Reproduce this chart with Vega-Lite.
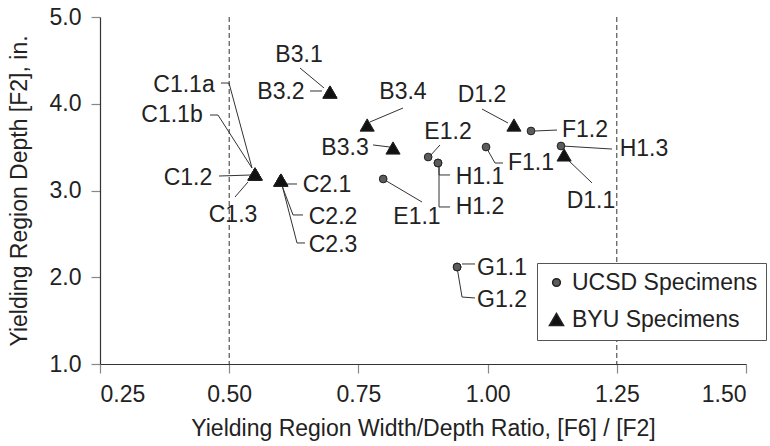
{
  "$schema": "https://vega.github.io/schema/vega-lite/v6.json",
  "width": 646,
  "height": 347,
  "autosize": {"type": "none"},
  "padding": {"left": 100, "top": 17, "right": 24, "bottom": 82},
  "background": "white",
  "config": {
    "view": {"stroke": null},
    "font": "Liberation Sans",
    "axis": {
      "labelFont": "Liberation Sans",
      "titleFont": "Liberation Sans",
      "labelFontSize": 23,
      "titleFontSize": 23,
      "labelColor": "#222222",
      "titleColor": "#222222",
      "titleFontWeight": "normal",
      "domainColor": "#333333",
      "domainWidth": 1.2,
      "tickColor": "#888888",
      "tickSize": 9,
      "tickWidth": 1.2,
      "grid": false,
      "labelPadding": 10
    },
    "legend": {
      "labelFont": "Liberation Sans",
      "labelFontSize": 23,
      "labelColor": "#222222",
      "labelLimit": 0
    }
  },
  "datasets": {
    "refs": [{"x": 0.5}, {"x": 1.25}],
    "specimens": [
      {"specimen": "C1.1a", "group": "BYU Specimens", "x": 0.55, "y": 3.19},
      {"specimen": "C1.1b", "group": "BYU Specimens", "x": 0.55, "y": 3.19},
      {"specimen": "C1.2", "group": "BYU Specimens", "x": 0.55, "y": 3.19},
      {"specimen": "C1.3", "group": "BYU Specimens", "x": 0.55, "y": 3.19},
      {"specimen": "C2.1", "group": "BYU Specimens", "x": 0.60, "y": 3.12},
      {"specimen": "C2.2", "group": "BYU Specimens", "x": 0.60, "y": 3.12},
      {"specimen": "C2.3", "group": "BYU Specimens", "x": 0.60, "y": 3.12},
      {"specimen": "B3.1", "group": "BYU Specimens", "x": 0.695, "y": 4.135},
      {"specimen": "B3.2", "group": "BYU Specimens", "x": 0.695, "y": 4.135},
      {"specimen": "B3.4", "group": "BYU Specimens", "x": 0.767, "y": 3.755},
      {"specimen": "B3.3", "group": "BYU Specimens", "x": 0.817, "y": 3.49},
      {"specimen": "D1.2", "group": "BYU Specimens", "x": 1.051, "y": 3.755},
      {"specimen": "D1.1", "group": "BYU Specimens", "x": 1.148, "y": 3.41},
      {"specimen": "E1.1", "group": "UCSD Specimens", "x": 0.798, "y": 3.133},
      {"specimen": "E1.2", "group": "UCSD Specimens", "x": 0.885, "y": 3.386},
      {"specimen": "H1.1", "group": "UCSD Specimens", "x": 0.904, "y": 3.317},
      {"specimen": "H1.2", "group": "UCSD Specimens", "x": 0.904, "y": 3.317},
      {"specimen": "F1.1", "group": "UCSD Specimens", "x": 0.997, "y": 3.501},
      {"specimen": "F1.2", "group": "UCSD Specimens", "x": 1.084, "y": 3.686},
      {"specimen": "H1.3", "group": "UCSD Specimens", "x": 1.142, "y": 3.513},
      {"specimen": "G1.1", "group": "UCSD Specimens", "x": 0.941, "y": 2.118},
      {"specimen": "G1.2", "group": "UCSD Specimens", "x": 0.941, "y": 2.118}
    ],
    "labels": [
      {"label": "C1.1a", "x": 0.4125, "y": 4.216},
      {"label": "C1.1b", "x": 0.3893, "y": 3.87},
      {"label": "C1.2", "x": 0.4203, "y": 3.144},
      {"label": "C1.3", "x": 0.5074, "y": 2.718},
      {"label": "B3.1", "x": 0.6351, "y": 4.562},
      {"label": "B3.2", "x": 0.6002, "y": 4.135},
      {"label": "B3.4", "x": 0.8363, "y": 4.135},
      {"label": "B3.3", "x": 0.7241, "y": 3.49},
      {"label": "E1.2", "x": 0.9234, "y": 3.674},
      {"label": "H1.1", "x": 0.9853, "y": 3.156},
      {"label": "H1.2", "x": 0.9853, "y": 2.81},
      {"label": "E1.1", "x": 0.8634, "y": 2.695},
      {"label": "C2.1", "x": 0.6892, "y": 3.063},
      {"label": "C2.2", "x": 0.7009, "y": 2.695},
      {"label": "C2.3", "x": 0.7009, "y": 2.372},
      {"label": "D1.2", "x": 0.9892, "y": 4.101},
      {"label": "F1.2", "x": 1.1885, "y": 3.697},
      {"label": "F1.1", "x": 1.084, "y": 3.317},
      {"label": "H1.3", "x": 1.3026, "y": 3.478},
      {"label": "D1.1", "x": 1.2001, "y": 2.879},
      {"label": "G1.1", "x": 1.0279, "y": 2.107},
      {"label": "G1.2", "x": 1.0279, "y": 1.738}
    ],
    "leaders": [
      {"id": "C1.1a", "seq": 1, "x": 0.4841, "y": 4.239},
      {"id": "C1.1a", "seq": 2, "x": 0.4996, "y": 4.239},
      {"id": "C1.1a", "seq": 3, "x": 0.5441, "y": 3.259},
      {"id": "C1.1b", "seq": 1, "x": 0.4629, "y": 3.87},
      {"id": "C1.1b", "seq": 2, "x": 0.4783, "y": 3.87},
      {"id": "C1.1b", "seq": 3, "x": 0.5441, "y": 3.259},
      {"id": "C1.2", "seq": 1, "x": 0.4803, "y": 3.167},
      {"id": "C1.2", "seq": 2, "x": 0.5441, "y": 3.179},
      {"id": "C1.3", "seq": 1, "x": 0.5112, "y": 2.925},
      {"id": "C1.3", "seq": 2, "x": 0.5364, "y": 3.098},
      {"id": "B3.1", "seq": 1, "x": 0.637, "y": 4.412},
      {"id": "B3.1", "seq": 2, "x": 0.6834, "y": 4.182},
      {"id": "B3.2", "seq": 1, "x": 0.6564, "y": 4.147},
      {"id": "B3.2", "seq": 2, "x": 0.6796, "y": 4.147},
      {"id": "B3.4", "seq": 1, "x": 0.8363, "y": 3.951},
      {"id": "B3.4", "seq": 2, "x": 0.7725, "y": 3.79},
      {"id": "B3.3", "seq": 1, "x": 0.7783, "y": 3.525},
      {"id": "B3.3", "seq": 2, "x": 0.8112, "y": 3.501},
      {"id": "E1.2", "seq": 1, "x": 0.9079, "y": 3.525},
      {"id": "E1.2", "seq": 2, "x": 0.8886, "y": 3.398},
      {"id": "H1.1", "seq": 1, "x": 0.906, "y": 3.317},
      {"id": "H1.1", "seq": 2, "x": 0.906, "y": 3.179},
      {"id": "H1.1", "seq": 3, "x": 0.9273, "y": 3.179},
      {"id": "H1.2", "seq": 1, "x": 0.906, "y": 3.317},
      {"id": "H1.2", "seq": 2, "x": 0.906, "y": 2.81},
      {"id": "H1.2", "seq": 3, "x": 0.9273, "y": 2.81},
      {"id": "E1.1", "seq": 1, "x": 0.7976, "y": 3.133},
      {"id": "E1.1", "seq": 2, "x": 0.8731, "y": 2.867},
      {"id": "D1.2", "seq": 1, "x": 0.9892, "y": 3.939},
      {"id": "D1.2", "seq": 2, "x": 1.0395, "y": 3.778},
      {"id": "F1.1", "seq": 1, "x": 0.9969, "y": 3.501},
      {"id": "F1.1", "seq": 2, "x": 1.0143, "y": 3.317},
      {"id": "F1.1", "seq": 3, "x": 1.0298, "y": 3.317},
      {"id": "F1.2", "seq": 1, "x": 1.0917, "y": 3.686},
      {"id": "F1.2", "seq": 2, "x": 1.1343, "y": 3.697},
      {"id": "H1.3", "seq": 1, "x": 1.144, "y": 3.513},
      {"id": "H1.3", "seq": 2, "x": 1.2407, "y": 3.478},
      {"id": "D1.1", "seq": 1, "x": 1.1556, "y": 3.352},
      {"id": "D1.1", "seq": 2, "x": 1.202, "y": 3.087},
      {"id": "C2.1", "seq": 1, "x": 0.6118, "y": 3.075},
      {"id": "C2.1", "seq": 2, "x": 0.6312, "y": 3.075},
      {"id": "C2.2", "seq": 1, "x": 0.6002, "y": 3.087},
      {"id": "C2.2", "seq": 2, "x": 0.6235, "y": 2.718},
      {"id": "C2.2", "seq": 3, "x": 0.6428, "y": 2.718},
      {"id": "C2.3", "seq": 1, "x": 0.6022, "y": 3.063},
      {"id": "C2.3", "seq": 2, "x": 0.6312, "y": 2.395},
      {"id": "C2.3", "seq": 3, "x": 0.6467, "y": 2.395},
      {"id": "G1.1", "seq": 1, "x": 0.9505, "y": 2.153},
      {"id": "G1.1", "seq": 2, "x": 0.9756, "y": 2.153},
      {"id": "G1.2", "seq": 1, "x": 0.9408, "y": 2.118},
      {"id": "G1.2", "seq": 2, "x": 0.9505, "y": 1.772},
      {"id": "G1.2", "seq": 3, "x": 0.9756, "y": 1.761}
    ]
  },
  "layer": [
    {
      "data": {"name": "specimens"},
      "mark": {"type": "point", "opacity": 0},
      "encoding": {
        "x": {
          "field": "x", "type": "quantitative",
          "scale": {"domain": [0.25, 1.5], "nice": false, "zero": false},
          "axis": {
            "values": [0.25, 0.5, 0.75, 1, 1.25, 1.5],
            "format": ".2f",
            "title": "Yielding Region Width/Depth Ratio, [F6] / [F2]",
            "titlePadding": 11
          }
        },
        "y": {
          "field": "y", "type": "quantitative",
          "scale": {"domain": [1, 5], "nice": false, "zero": false},
          "axis": {
            "values": [1, 2, 3, 4, 5],
            "format": ".1f",
            "title": "Yielding Region Depth [F2], in.",
            "titlePadding": 18
          }
        }
      }
    },
    {
      "data": {"name": "refs"},
      "mark": {"type": "rule", "color": "#333333", "strokeWidth": 1, "strokeDash": [5, 3]},
      "encoding": {
        "x": {"field": "x", "type": "quantitative"}
      }
    },
    {
      "data": {"name": "leaders"},
      "mark": {"type": "line", "color": "#333333", "strokeWidth": 1},
      "encoding": {
        "x": {"field": "x", "type": "quantitative"},
        "y": {"field": "y", "type": "quantitative"},
        "detail": {"field": "id"},
        "order": {"field": "seq", "type": "quantitative"}
      }
    },
    {
      "data": {"name": "specimens"},
      "mark": {"type": "point", "filled": true, "stroke": "#222222", "strokeWidth": 1, "opacity": 1},
      "encoding": {
        "x": {"field": "x", "type": "quantitative"},
        "y": {"field": "y", "type": "quantitative"},
        "shape": {
          "field": "group", "type": "nominal",
          "scale": {"domain": ["UCSD Specimens", "BYU Specimens"], "range": ["circle", "triangle-up"]},
          "legend": {
            "title": null, "orient": "none", "legendX": 437, "legendY": 246,
            "padding": 8, "rowPadding": 13, "labelOffset": 4,
            "strokeColor": "#555555", "fillColor": "white", "labelFontSize": 23
          }
        },
        "color": {
          "field": "group", "type": "nominal",
          "scale": {"domain": ["UCSD Specimens", "BYU Specimens"], "range": ["#5c5c5c", "#111111"]},
          "legend": {
            "title": null, "orient": "none", "legendX": 437, "legendY": 246,
            "padding": 8, "rowPadding": 13, "labelOffset": 4,
            "strokeColor": "#555555", "fillColor": "white", "labelFontSize": 23
          }
        },
        "size": {
          "field": "group", "type": "nominal",
          "scale": {"domain": ["UCSD Specimens", "BYU Specimens"], "range": [60, 200]},
          "legend": {
            "title": null, "orient": "none", "legendX": 437, "legendY": 246,
            "padding": 8, "rowPadding": 13, "labelOffset": 4,
            "strokeColor": "#555555", "fillColor": "white", "labelFontSize": 23
          }
        }
      }
    },
    {
      "data": {"name": "labels"},
      "mark": {"type": "text", "font": "Liberation Sans", "fontSize": 23, "color": "#222222", "align": "center", "baseline": "middle"},
      "encoding": {
        "x": {"field": "x", "type": "quantitative"},
        "y": {"field": "y", "type": "quantitative"},
        "text": {"field": "label"}
      }
    }
  ]
}
